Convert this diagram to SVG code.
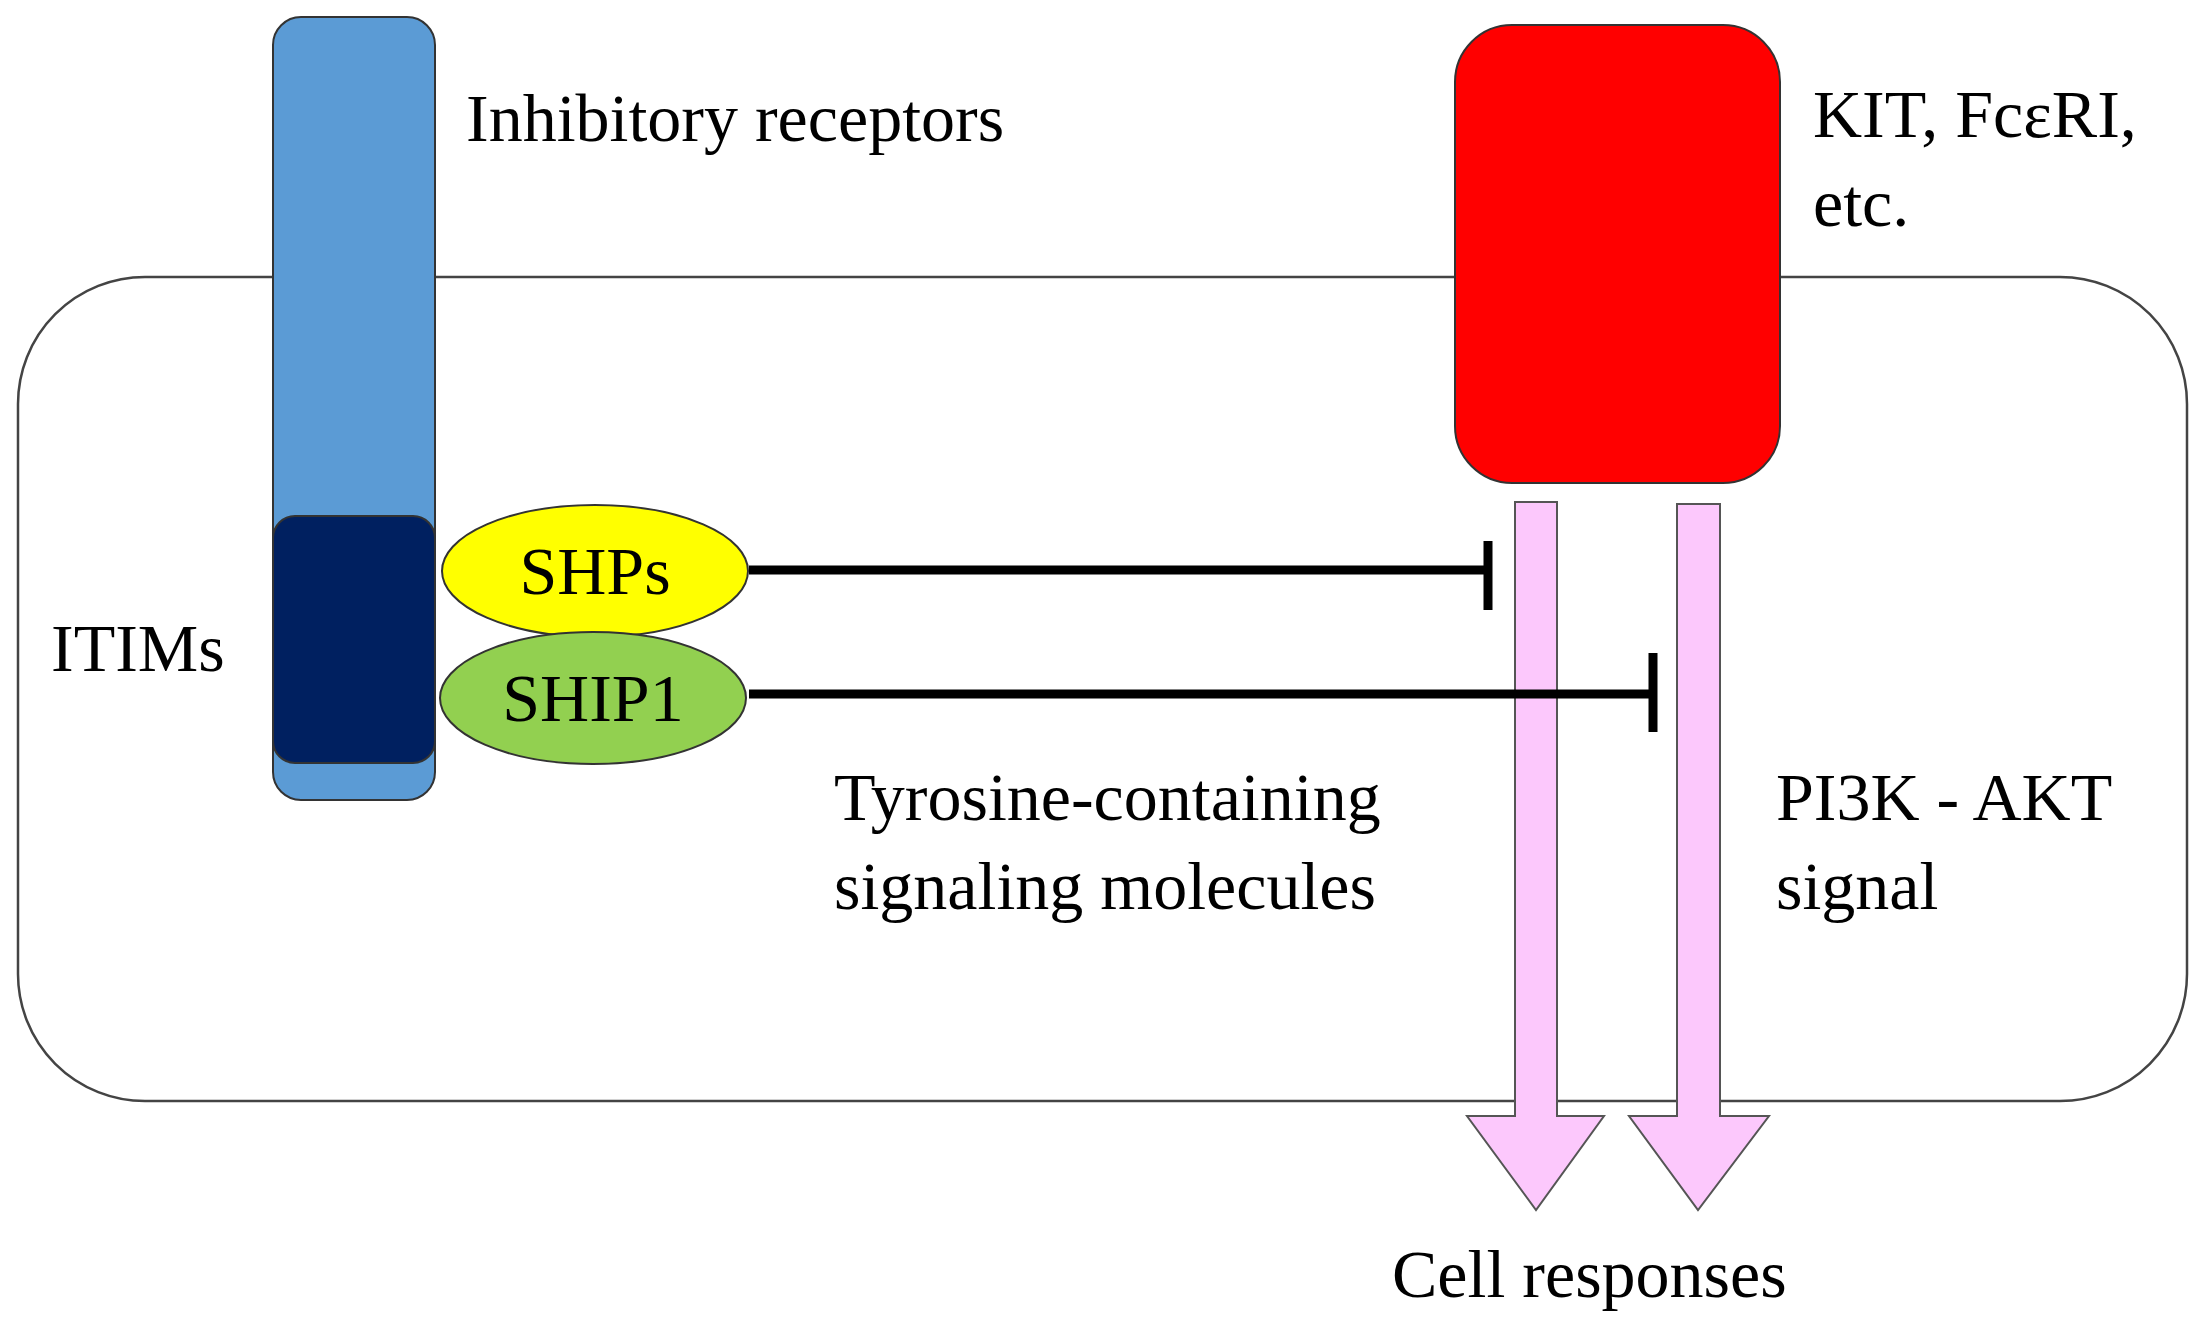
<svg xmlns="http://www.w3.org/2000/svg" width="2204" height="1325" viewBox="0 0 2204 1325">
<style>
text{font-family:"Liberation Serif","Times New Roman",serif;font-size:68px;fill:#000}
.inh{stroke:#000;stroke-width:9;fill:none}
.arr{fill:#fcc8fc;stroke:#555;stroke-width:2}
</style>
<rect width="2204" height="1325" fill="#fff"/>
<g id="cell"><rect x="18" y="277" width="2169" height="824" rx="127" fill="none" stroke="#444" stroke-width="2.5"/></g>
<g id="inhibitory-receptor">
<rect x="273" y="17" width="162" height="783" rx="28" fill="#5b9bd5" stroke="#333" stroke-width="2"/>
<rect x="273" y="516" width="162" height="247" rx="22" fill="#002060" stroke="#333" stroke-width="2"/>
<text x="466" y="141">Inhibitory receptors</text>
<text x="51" y="671">ITIMs</text>
</g>
<g id="kit">
<rect x="1455" y="25" width="325" height="458" rx="57" fill="#ff0000" stroke="#333" stroke-width="2"/>
<text x="1813" y="137">KIT, FcεRI,</text>
<text x="1813" y="226">etc.</text>
</g>
<g id="connectors">
<path class="arr" d="M1515 502H1557V1116H1604L1536 1210L1467 1116H1515Z"/>
<path class="arr" d="M1677 504H1720V1116H1769L1698 1210L1629 1116H1677Z"/>
<path class="inh" d="M749 570H1488M1488 541V610"/>
<path class="inh" d="M749 694H1653M1653 653V732"/>
</g>
<g id="shps"><ellipse cx="595" cy="571" rx="153" ry="66" fill="#ffff00" stroke="#333" stroke-width="2"/><text x="595" y="594" text-anchor="middle">SHPs</text></g>
<g id="ship1"><ellipse cx="593" cy="698" rx="153" ry="66" fill="#92d050" stroke="#333" stroke-width="2"/><text x="593" y="721" text-anchor="middle">SHIP1</text></g>
<g id="labels">
<text x="834" y="820">Tyrosine-containing</text>
<text x="834" y="909">signaling molecules</text>
<text x="1776" y="820">PI3K - AKT</text>
<text x="1776" y="909">signal</text>
<text x="1392" y="1297">Cell responses</text>
</g>
</svg>
